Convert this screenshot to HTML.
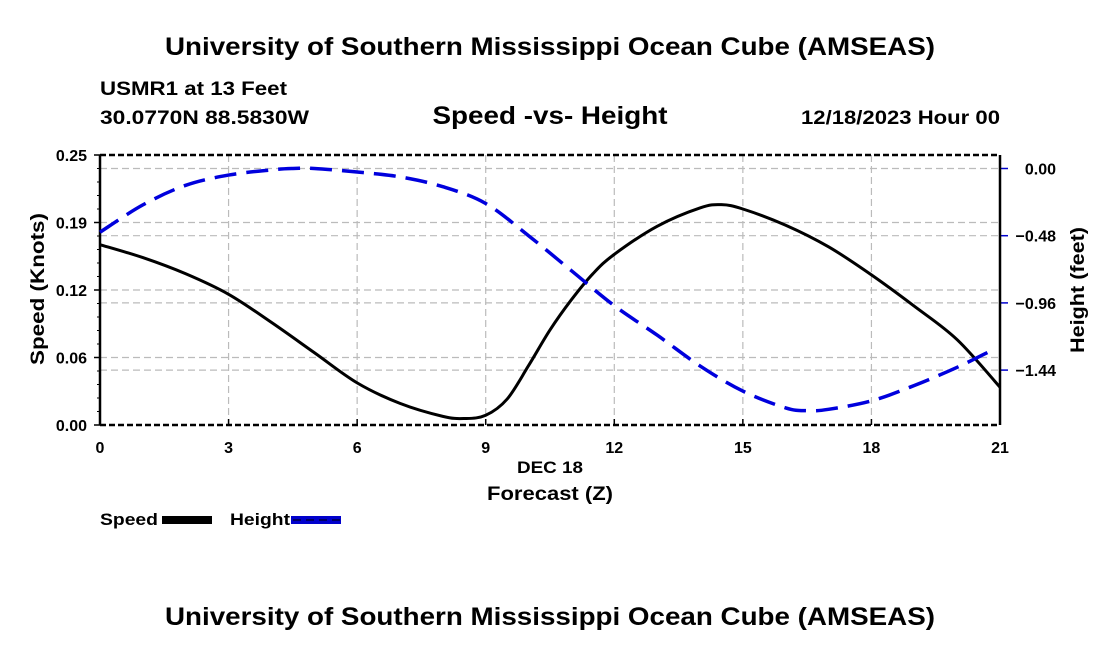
<!DOCTYPE html>
<html><head><meta charset="utf-8"><style>
body{margin:0;background:#fff;width:1100px;height:650px;overflow:hidden}
text{font-family:"Liberation Sans",Arial,sans-serif;font-weight:bold;fill:#000}
</style></head><body>
<svg id="chart" width="1100" height="650" xmlns="http://www.w3.org/2000/svg">
<rect width="1100" height="650" fill="#fff"/>
<text x="550" y="55" font-size="25" text-anchor="middle" textLength="770" lengthAdjust="spacingAndGlyphs">University of Southern Mississippi Ocean Cube (AMSEAS)</text>
<text x="100" y="95" font-size="19" textLength="187" lengthAdjust="spacingAndGlyphs">USMR1 at 13 Feet</text>
<text x="100" y="124" font-size="19" textLength="209" lengthAdjust="spacingAndGlyphs">30.0770N  88.5830W</text>
<text x="550" y="124" font-size="25" text-anchor="middle" textLength="235" lengthAdjust="spacingAndGlyphs">Speed -vs- Height</text>
<text x="1000" y="124" font-size="19" text-anchor="end" textLength="199" lengthAdjust="spacingAndGlyphs">12/18/2023 Hour 00</text>
<g id="grid"></g>
<g id="axes"></g>
<g id="series"></g>
<text x="550" y="473" font-size="17" text-anchor="middle" textLength="66" lengthAdjust="spacingAndGlyphs">DEC 18</text>
<text x="550" y="500" font-size="19" text-anchor="middle" textLength="126" lengthAdjust="spacingAndGlyphs">Forecast (Z)</text>
<text transform="translate(44,289) rotate(-90)" font-size="19" text-anchor="middle" textLength="152" lengthAdjust="spacingAndGlyphs">Speed (Knots)</text>
<text transform="translate(1084,290) rotate(-90)" font-size="19" text-anchor="middle" textLength="126" lengthAdjust="spacingAndGlyphs">Height (feet)</text>
<g>
<text x="100" y="525" font-size="17" textLength="58" lengthAdjust="spacingAndGlyphs">Speed</text>
<rect x="162" y="516" width="50" height="8" fill="#000"/>
</g>
<g>
<text x="230" y="525" font-size="17" textLength="60" lengthAdjust="spacingAndGlyphs">Height</text>
<rect x="291" y="516" width="50" height="8" fill="#0000cc"/>
<line x1="293" y1="520" x2="341" y2="520" stroke="#000066" stroke-width="2" stroke-dasharray="8,5"/>
</g>
<text x="550" y="625" font-size="25" text-anchor="middle" textLength="770" lengthAdjust="spacingAndGlyphs">University of Southern Mississippi Ocean Cube (AMSEAS)</text>
</svg>
<script>
const hours=[0,1,2,3,4,5,6,7,8,8.5,9,9.5,10,10.5,11,11.5,12,13,14,14.5,15,16,17,18,19,20,21];
const speed=[0.167,0.155,0.140,0.121,0.095,0.067,0.039,0.020,0.008,0.006,0.009,0.024,0.055,0.088,0.116,0.140,0.158,0.184,0.201,0.204,0.200,0.185,0.165,0.139,0.110,0.079,0.035];
const hHours=[0,1,2,3,4,4.5,5,6,7,8,9,10,11,12,13,14,15,16,16.5,17,18,19,20,20.8];
const height=[-0.455,-0.26,-0.12,-0.047,-0.01,0,0,-0.025,-0.06,-0.13,-0.25,-0.48,-0.73,-0.98,-1.19,-1.41,-1.59,-1.71,-1.73,-1.72,-1.66,-1.55,-1.42,-1.30];
const xTicks=[0,3,6,9,12,15,18,21];
const speedTicks=[0,0.0625,0.125,0.1875,0.25];
const speedTickLabels=["0.00","0.06","0.12","0.19","0.25"];
const heightTicks=[0,-0.48,-0.96,-1.44];
const heightTickLabels=["0.00","\u22120.48","\u22120.96","\u22121.44"];
const L=100,R=1000,T=155,B=425;
const xs=h=>L+(h/21)*(R-L);
const ys=v=>B-(v/0.25)*(B-T);
const yh=v=>168.5-(v/0.48)*67.2;
const NS='http://www.w3.org/2000/svg';
function mk(tag,attrs,parent){const e=document.createElementNS(NS,tag);for(const k in attrs)e.setAttribute(k,attrs[k]);parent.appendChild(e);return e;}
const grid=document.getElementById('grid'),axes=document.getElementById('axes'),series=document.getElementById('series');
xTicks.forEach(h=>{if(h>0&&h<21){const l=mk('line',{x1:xs(h),x2:xs(h),y1:T,y2:B,stroke:'#bbb','stroke-width':1.2,'stroke-dasharray':'7,4'},grid);

}
const t=mk('text',{x:xs(h),y:453,'font-size':16,'text-anchor':'middle'},axes);t.textContent=h;


mk('line',{x1:xs(h),x2:xs(h),y1:B,y2:B-6,stroke:'#000','stroke-width':1.5},axes);});
speedTicks.forEach((v,i)=>{if(i>0&&i<4){const l=mk('line',{x1:L,x2:R,y1:ys(v),y2:ys(v),stroke:'#bbb','stroke-width':1.2,'stroke-dasharray':'7,4'},grid);

}
mk('line',{x1:L-6,x2:L,y1:ys(v),y2:ys(v),stroke:'#000','stroke-width':1.5},axes);
const t=mk('text',{x:L-13,y:ys(v)+6,'font-size':16,'text-anchor':'end'},axes);t.textContent=speedTickLabels[i];

});
for(let v=0;v<=0.25+1e-9;v+=0.0125){mk('line',{x1:L-3,x2:L,y1:ys(v),y2:ys(v),stroke:'#000','stroke-width':1},axes);}
heightTicks.forEach((v,i)=>{const l=mk('line',{x1:L,x2:R,y1:yh(v),y2:yh(v),stroke:'#bbb','stroke-width':1.2,'stroke-dasharray':'7,4'},grid);


mk('line',{x1:R,x2:R+8,y1:yh(v),y2:yh(v),stroke:'#0000cc','stroke-width':1.5},axes);
const t=mk('text',{x:1056,y:yh(v)+6,'font-size':16,'text-anchor':'end'},axes);t.textContent=heightTickLabels[i];

});
mk('line',{x1:L,x2:L,y1:T,y2:B,stroke:'#000','stroke-width':2.5},axes);
mk('line',{x1:R,x2:R,y1:T,y2:B,stroke:'#000','stroke-width':2.5},axes);
mk('line',{x1:L,x2:R,y1:T,y2:T,stroke:'#000','stroke-width':2.5,'stroke-dasharray':'6,3'},axes);
mk('line',{x1:L,x2:R,y1:B,y2:B,stroke:'#000','stroke-width':2.5,'stroke-dasharray':'6,3'},axes);
function smooth(pts){let d='M'+pts[0][0]+','+pts[0][1];for(let i=0;i<pts.length-1;i++){const p0=pts[i-1]||pts[i],p1=pts[i],p2=pts[i+1],p3=pts[i+2]||p2;
d+=' C'+(p1[0]+(p2[0]-p0[0])/6)+','+(p1[1]+(p2[1]-p0[1])/6)+' '+(p2[0]-(p3[0]-p1[0])/6)+','+(p2[1]-(p3[1]-p1[1])/6)+' '+p2[0]+','+p2[1];}return d;}
const sp=mk('path',{d:smooth(hours.map((h,i)=>[xs(h),ys(speed[i])])),fill:'none',stroke:'#000','stroke-width':3},series);


const hp=mk('path',{d:smooth(hHours.map((h,i)=>[xs(h),yh(height[i])])),fill:'none',stroke:'#0000dd','stroke-width':3.5,'stroke-dasharray':'22,10'},series);


</script>
</body></html>
